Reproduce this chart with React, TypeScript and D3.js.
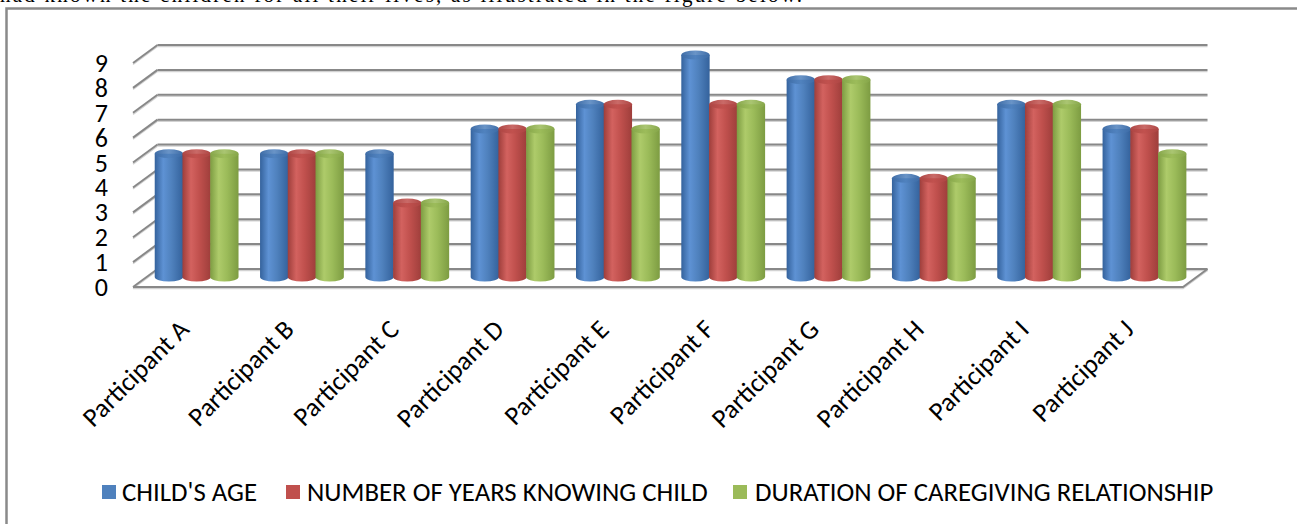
import React from 'react';
import * as d3 from 'd3';

const categories = ['Participant A', 'Participant B', 'Participant C', 'Participant D', 'Participant E', 'Participant F', 'Participant G', 'Participant H', 'Participant I', 'Participant J'];
const seriesNames = ["CHILD'S AGE", 'NUMBER OF YEARS KNOWING CHILD', 'DURATION OF CAREGIVING RELATIONSHIP'];
const childAge = [5, 5, 5, 6, 7, 9, 8, 4, 7, 6];
const yearsKnowing = [5, 5, 3, 6, 7, 7, 8, 4, 7, 6];
const caregiving = [5, 5, 3, 6, 6, 7, 8, 4, 7, 5];
const yTicks = [0, 1, 2, 3, 4, 5, 6, 7, 8, 9];
const introText = 'had known the children for all their lives, as illustrated in the figure below.';

const seriesValues = [childAge, yearsKnowing, caregiving];
const palette = [
  { base: '#4F81BD', dark: '#34629c', light: '#5e92d4', top: '#3e6ca6' },
  { base: '#C0504D', dark: '#9e3e3b', light: '#d3625f', top: '#ad4644' },
  { base: '#9BBB59', dark: '#7d9c42', light: '#aecb6a', top: '#86a64a' },
];

const W = 1297;
const H = 524;
const FONT = 'Carlito, Calibri, Lato, "Open Sans", sans-serif';

// 3D frame geometry
const floorLeft = 133;
const floorRight = 1183;
const depthX = 24.5;
const depthY = -18;

export default function App() {
  const yFront = d3.scaleLinear().domain([0, 9]).range([287, 63]);
  const yBar = d3.scaleLinear().domain([0, 9]).range([277, 55]);
  const xCluster = d3
    .scaleBand<string>()
    .domain(categories)
    .range([floorLeft + depthX / 2, floorRight + depthX / 2])
    .paddingInner(0.21)
    .paddingOuter(0.09);
  const xSeries = d3
    .scaleBand<number>()
    .domain([0, 1, 2])
    .range([0, xCluster.bandwidth()]);
  const xFront = d3
    .scaleBand<string>()
    .domain(categories)
    .range([floorLeft, floorRight]);

  const ry = 4.5;
  const bw = xSeries.bandwidth() + 0.6;

  const legendItems = [
    { x: 102, tx: 122 },
    { x: 286, tx: 307 },
    { x: 733, tx: 755 },
  ];

  return (
    <svg
      width={W}
      height={H}
      viewBox={`0 0 ${W} ${H}`}
      style={{ position: 'absolute', left: 0, top: 0, background: '#fff', overflow: 'hidden' }}
    >
      <defs>
        {palette.map((p, i) => (
          <linearGradient key={i} id={`body${i}`} x1="0" x2="1" y1="0" y2="0">
            <stop offset="0%" stopColor={p.dark} />
            <stop offset="30%" stopColor={p.light} />
            <stop offset="60%" stopColor={p.base} />
            <stop offset="100%" stopColor={p.dark} />
          </linearGradient>
        ))}
        {palette.map((p, i) => (
          <linearGradient key={i} id={`top${i}`} x1="0" x2="1" y1="0" y2="0">
            <stop offset="0%" stopColor={p.top} />
            <stop offset="50%" stopColor={p.base} stopOpacity={0.85} />
            <stop offset="100%" stopColor={p.top} />
          </linearGradient>
        ))}
      </defs>

      {/* intro text cut by the top edge */}
      <text x={0} y={2} fontFamily='"Liberation Serif", "Times New Roman", serif' fontSize={21} textLength={802} lengthAdjust="spacing" fill="#000">
        {introText}
      </text>

      {/* chart frame */}
      <rect x={6.5} y={8.5} width={1400} height={600} fill="none" stroke="#8a8a8a" strokeWidth={2.5} />

      {/* back-wall gridlines and left-wall diagonals */}
      <g>
        {yTicks.map((t) => {
          const yf = yFront(t);
          const yb = yf + depthY;
          return (
            <g key={t}>
              <line x1={floorLeft} y1={yf + 1.5} x2={floorLeft + depthX} y2={yb + 1.5} stroke="#d2d2d2" strokeWidth={1.5} />
              <line x1={floorLeft + depthX} y1={yb + 1.5} x2={floorRight + depthX} y2={yb + 1.5} stroke="#d2d2d2" strokeWidth={1.5} />
              <line x1={floorLeft} y1={yf} x2={floorLeft + depthX} y2={yb} stroke="#888" strokeWidth={2} />
              <line x1={floorLeft + depthX} y1={yb} x2={floorRight + depthX} y2={yb} stroke="#888" strokeWidth={2} />
            </g>
          );
        })}
        {/* floor front and right edges */}
        <polyline
          points={`${floorLeft},${yFront(0) + 1.5} ${floorRight},${yFront(0) + 1.5} ${floorRight + depthX},${yFront(0) + depthY + 1.5}`}
          fill="none"
          stroke="#d2d2d2"
          strokeWidth={1.5}
        />
        <polyline
          points={`${floorLeft},${yFront(0)} ${floorRight},${yFront(0)} ${floorRight + depthX},${yFront(0) + depthY}`}
          fill="none"
          stroke="#888"
          strokeWidth={2}
        />
      </g>

      {/* y tick labels */}
      <g fontFamily={FONT} fontSize={26} fill="#000">
        {yTicks.map((t) => (
          <text key={t} x={108} y={yFront(t) + 9} textAnchor="end">
            {t}
          </text>
        ))}
      </g>

      {/* cylinders */}
      <g>
        {categories.map((c, ci) => (
          <g key={c}>
            {seriesValues.map((vals, si) => {
              const v = vals[ci];
              const x = (xCluster(c) as number) + (xSeries(si) as number);
              const rx = bw / 2;
              const cx = x + rx;
              const yB = yBar(0);
              const yT = yBar(v);
              const d = `M${x},${yT} L${x},${yB} A${rx},${ry} 0 0 0 ${x + bw},${yB} L${x + bw},${yT} Z`;
              return (
                <g key={si}>
                  <path d={d} fill={`url(#body${si})`} />
                  <ellipse cx={cx} cy={yT} rx={rx} ry={ry} fill={`url(#top${si})`} />
                </g>
              );
            })}
          </g>
        ))}
      </g>

      {/* category labels */}
      <g fontFamily={FONT} fontSize={26.5} fill="#000">
        {categories.map((c) => {
          const ax = (xFront(c) as number) + xFront.bandwidth() / 2 + 5;
          const ay = 331;
          return (
            <text key={c} x={ax} y={ay} textAnchor="end" transform={`rotate(-45 ${ax} ${ay})`}>
              {c}
            </text>
          );
        })}
      </g>

      {/* legend */}
      <g fontFamily={FONT} fontSize={26.8} fill="#000">
        {seriesNames.map((n, i) => (
          <g key={n}>
            <rect x={legendItems[i].x} y={485} width={14} height={14} fill={palette[i].base} />
            <text x={legendItems[i].tx} y={501}>
              {n}
            </text>
          </g>
        ))}
      </g>
    </svg>
  );
}
